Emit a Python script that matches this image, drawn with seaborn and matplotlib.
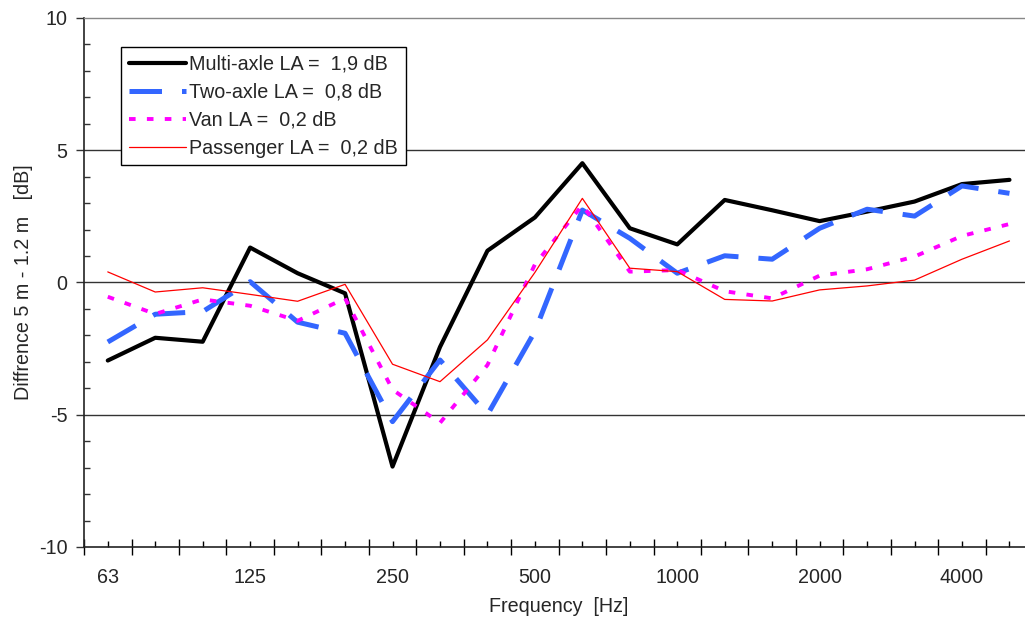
import matplotlib
matplotlib.use("Agg")
import matplotlib.pyplot as plt
from matplotlib.ticker import MultipleLocator
import numpy as np
import pandas as pd
import seaborn as sns

# Third-octave band centre frequencies [Hz]
bands = ["63", "80", "100", "125", "160", "200", "250", "315", "400", "500",
         "630", "800", "1000", "1250", "1600", "2000", "2500", "3150", "4000", "5000"]
labelled_bands = ["63", "125", "250", "500", "1000", "2000", "4000"]

# Level difference between microphone heights 5 m and 1.2 m [dB]
multi_axle = [-2.95, -2.09, -2.24, 1.32, 0.35, -0.41, -6.96, -2.44, 1.20, 2.46,
              4.51, 2.05, 1.44, 3.12, 2.73, 2.32, 2.68, 3.06, 3.72, 3.88]
two_axle = [-2.25, -1.20, -1.10, 0.03, -1.50, -1.92, -5.26, -2.93, -5.00, -1.85,
            2.74, 1.67, 0.35, 1.01, 0.88, 2.05, 2.77, 2.51, 3.65, 3.37]
van = [-0.54, -1.19, -0.64, -0.88, -1.45, -0.60, -4.05, -5.31, -3.12, 0.68,
       2.93, 0.41, 0.47, -0.33, -0.60, 0.26, 0.50, 0.98, 1.76, 2.21]
passenger = [0.40, -0.36, -0.20, -0.45, -0.71, -0.07, -3.09, -3.75, -2.17, 0.38,
             3.18, 0.54, 0.41, -0.64, -0.70, -0.28, -0.13, 0.09, 0.88, 1.57]

series_names = ["Multi-axle LA =  1,9 dB", "Two-axle LA =  0,8 dB",
                "Van LA =  0,2 dB", "Passenger LA =  0,2 dB"]

sns.set_theme(style="white")
plt.rcParams["font.family"] = ["Liberation Sans", "DejaVu Sans"]
plt.rcParams["axes.unicode_minus"] = False

FS = 14.2

fig = plt.figure(figsize=(10.25, 6.24), dpi=100)
ax = fig.add_axes([0.082, 0.1234, 0.926, 0.8478])

pos = np.arange(len(bands))
styles = [
    dict(color="black", lw=3.0, linestyle="-"),
    dict(color="#3366ff", lw=3.6, linestyle=(0, (6.5, 4.0))),
    dict(color="#ff00ff", lw=2.8, linestyle=(0, (1.7, 2.9))),
    dict(color="red", lw=0.9, linestyle="-"),
]
for name, vals, st in zip(series_names, [multi_axle, two_axle, van, passenger], styles):
    df = pd.DataFrame({"band": pos, "diff": vals})
    sns.lineplot(data=df, x="band", y="diff", ax=ax, label=name, sort=False,
                 color=st["color"], linewidth=st["lw"], linestyle=st["linestyle"],
                 zorder=3)

# Horizontal reference lines
for yv in (5, 0, -5):
    ax.axhline(yv, color="#333333", lw=1.0, zorder=1)

ax.set_xlim(-0.5, len(bands) - 0.5)
ax.set_ylim(-10, 10)

# Major x ticks at band edges, band labels on minor ticks at band centres
ax.set_xticks(np.arange(-0.5, len(bands), 1.0))
ax.set_xticklabels([])
ax.set_xticks(pos, minor=True)
ax.set_xticklabels([b if b in labelled_bands else "" for b in bands], minor=True)
ax.tick_params(axis="x", which="major", direction="inout", length=12, width=1,
               color="black", bottom=True)
ax.tick_params(axis="x", which="minor", direction="in", length=4, width=1,
               color="black", bottom=True, pad=15, labelsize=FS)

ax.yaxis.set_major_locator(MultipleLocator(5))
ax.yaxis.set_minor_locator(MultipleLocator(1))
ax.tick_params(axis="y", which="major", direction="out", length=6, width=1,
               color="#333333", left=True, pad=6, labelsize=FS)
ax.tick_params(axis="y", which="minor", direction="in", length=4, width=1,
               color="#333333", left=True)

ax.set_xlabel("Frequency  [Hz]", fontsize=FS, labelpad=7)
ax.set_ylabel("Diffrence 5 m - 1.2 m   [dB]", fontsize=FS, labelpad=4.5)

for side in ("left", "bottom"):
    ax.spines[side].set_visible(True)
    ax.spines[side].set_color("#222222")
    ax.spines[side].set_linewidth(1.2)
ax.spines["top"].set_color("#888888")
ax.spines["top"].set_linewidth(1.0)
ax.spines["right"].set_visible(False)

leg = ax.legend(loc="upper left", bbox_to_anchor=(0.039, 0.945), borderaxespad=0,
                fontsize=FS, frameon=True, fancybox=False, framealpha=1,
                edgecolor="black", handlelength=2.9, handletextpad=0.15,
                labelspacing=0.45, borderpad=0.4)
leg.get_frame().set_linewidth(1.0)
leg.set_zorder(5)

fig.savefig("out.png", dpi=100)
